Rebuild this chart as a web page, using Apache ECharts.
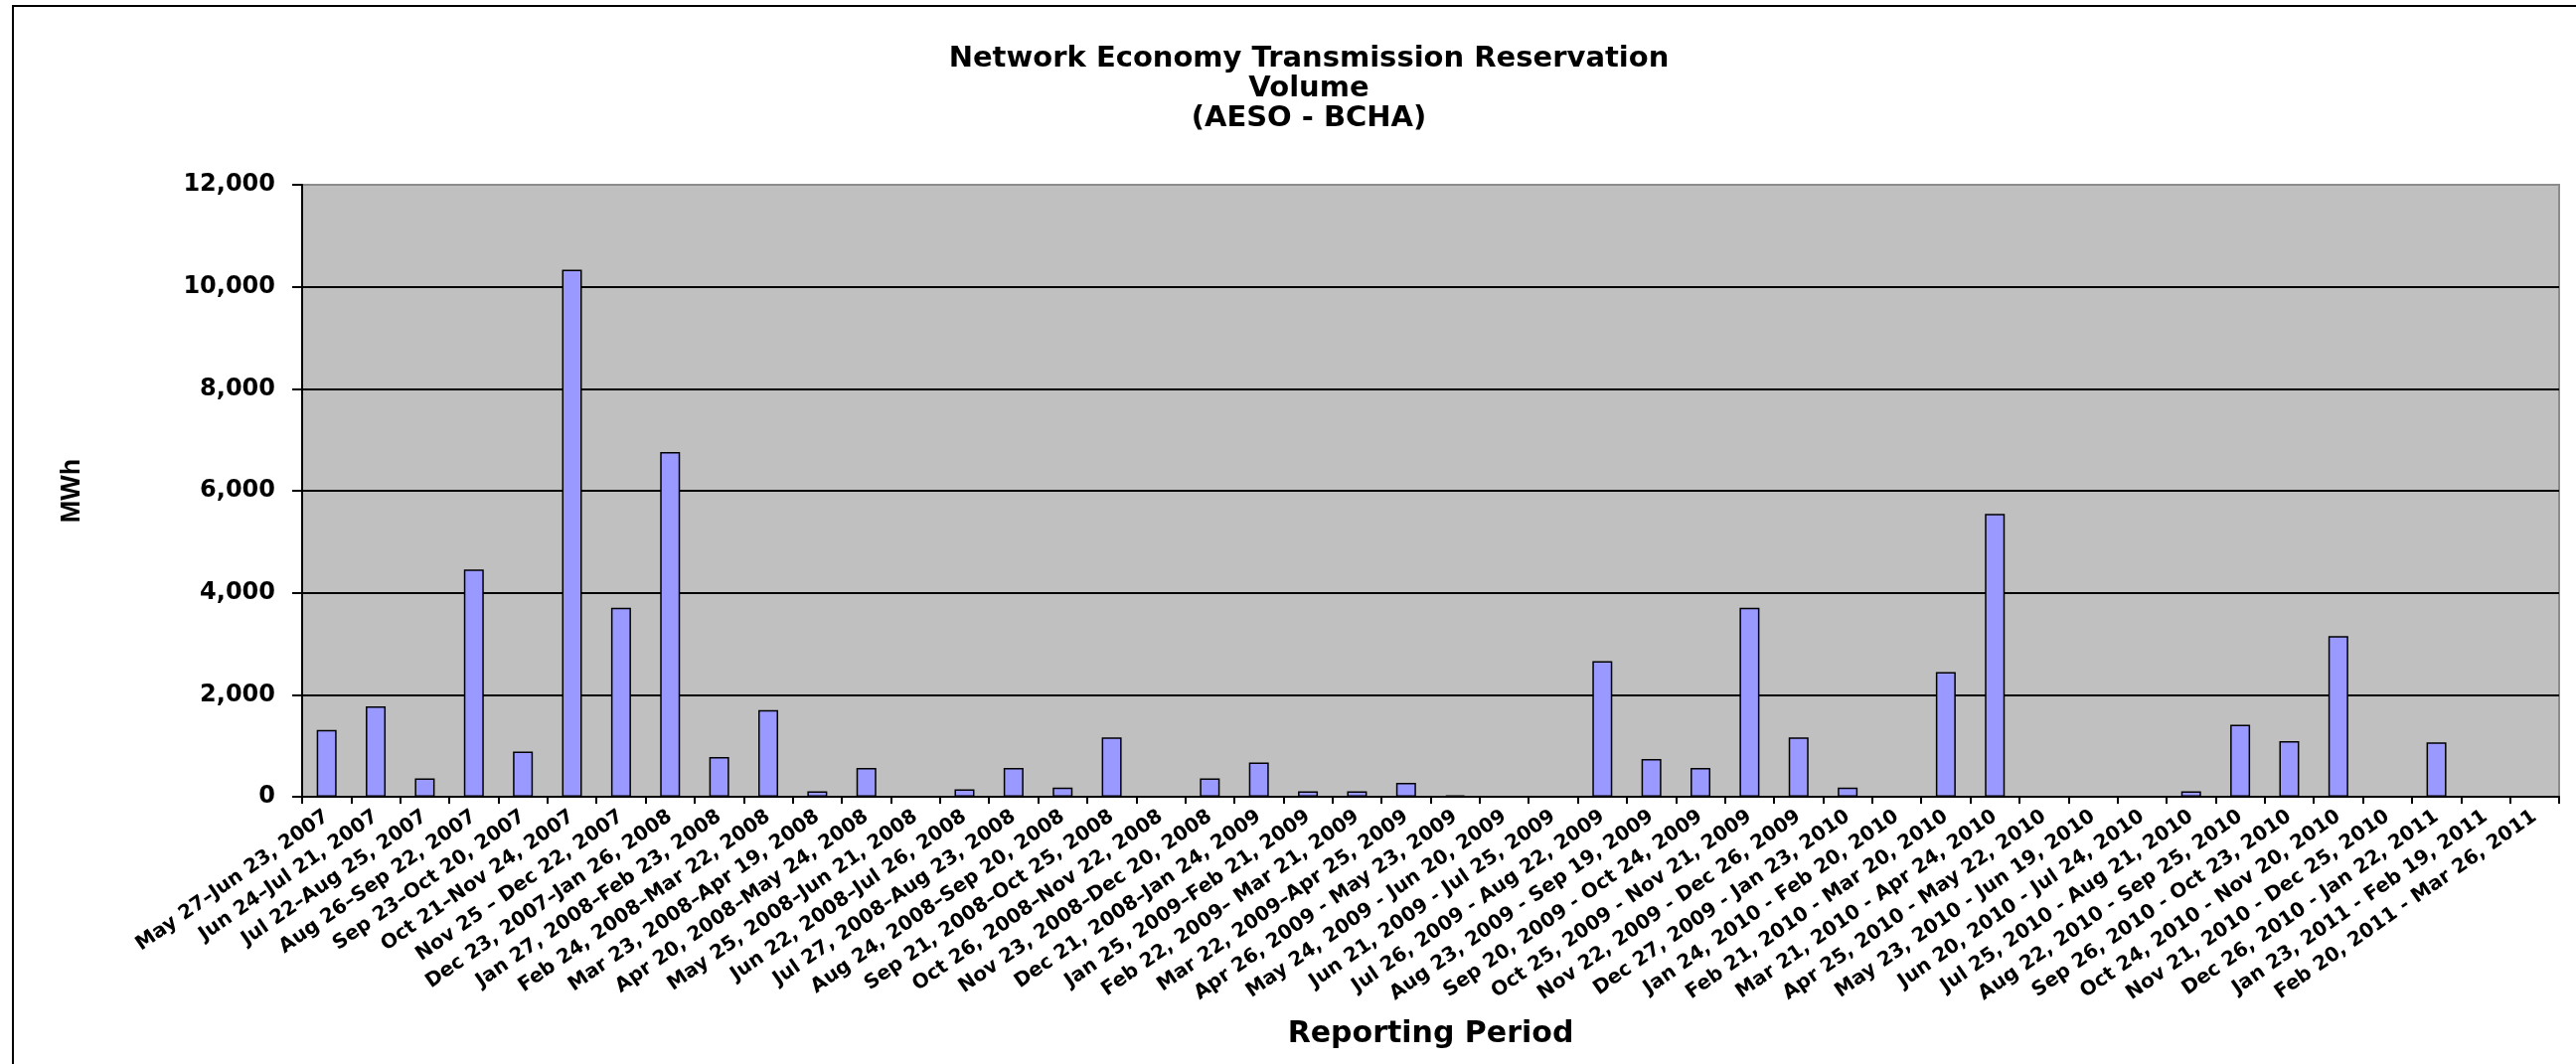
<!DOCTYPE html>
<html>
<head>
<meta charset="utf-8">
<style>
  html, body { margin: 0; padding: 0; background: #ffffff; }
  #chart { width: 2592px; height: 1071px; }
</style>
<script src="https://cdn.jsdelivr.net/npm/echarts@6/dist/echarts.min.js"></script>
</head>
<body>
<div id="chart"></div>
<script>
const titleLines = ['Network Economy Transmission Reservation', 'Volume', '(AESO - BCHA)'];
const xAxisTitle = 'Reporting Period';
const yAxisTitle = 'MWh';

const categories = [
  'May 27\u2013Jun 23, 2007',
  'Jun 24\u2013Jul 21, 2007',
  'Jul 22\u2013Aug 25, 2007',
  'Aug 26\u2013Sep 22, 2007',
  'Sep 23\u2013Oct 20, 2007',
  'Oct 21\u2013Nov 24, 2007',
  'Nov 25 \u2013 Dec 22, 2007',
  'Dec 23, 2007\u2013Jan 26, 2008',
  'Jan 27, 2008\u2013Feb 23, 2008',
  'Feb 24, 2008\u2013Mar 22, 2008',
  'Mar 23, 2008\u2013Apr 19, 2008',
  'Apr 20, 2008\u2013May 24, 2008',
  'May 25, 2008\u2013Jun 21, 2008',
  'Jun 22, 2008\u2013Jul 26, 2008',
  'Jul 27, 2008\u2013Aug 23, 2008',
  'Aug 24, 2008\u2013Sep 20, 2008',
  'Sep 21, 2008\u2013Oct 25, 2008',
  'Oct 26, 2008\u2013Nov 22, 2008',
  'Nov 23, 2008\u2013Dec 20, 2008',
  'Dec 21, 2008\u2013Jan 24, 2009',
  'Jan 25, 2009\u2013Feb 21, 2009',
  'Feb 22, 2009\u2013 Mar 21, 2009',
  'Mar 22, 2009\u2013Apr 25, 2009',
  'Apr 26, 2009 - May 23, 2009',
  'May 24, 2009 - Jun 20, 2009',
  'Jun 21, 2009 - Jul 25, 2009',
  'Jul 26, 2009 - Aug 22, 2009',
  'Aug 23, 2009 - Sep 19, 2009',
  'Sep 20, 2009 - Oct 24, 2009',
  'Oct 25, 2009 - Nov 21, 2009',
  'Nov 22, 2009 - Dec 26, 2009',
  'Dec 27, 2009 - Jan 23, 2010',
  'Jan 24, 2010 - Feb 20, 2010',
  'Feb 21, 2010 - Mar 20, 2010',
  'Mar 21, 2010 - Apr 24, 2010',
  'Apr 25, 2010 - May 22, 2010',
  'May 23, 2010 - Jun 19, 2010',
  'Jun 20, 2010 - Jul 24, 2010',
  'Jul 25, 2010 - Aug 21, 2010',
  'Aug 22, 2010 - Sep 25, 2010',
  'Sep 26, 2010 - Oct 23, 2010',
  'Oct 24, 2010 - Nov 20, 2010',
  'Nov 21, 2010 - Dec 25, 2010',
  'Dec 26, 2010 - Jan 22, 2011',
  'Jan 23, 2011 - Feb 19, 2011',
  'Feb 20, 2011 - Mar 26, 2011'
];

const volumes = [
  1312, 1772, 361, 4454, 886, 10336, 3708, 6759, 779, 1698,
  107, 566, 0, 148, 566, 180, 1165, 0, 361, 673,
  107, 107, 271, 25, 0, 0, 2658, 738, 566, 3708,
  1165, 180, 0, 2445, 5546, 0, 0, 0, 107, 1411,
  1091, 3150, 0, 1066, 0, 0
];

const yMin = 0;
const yMax = 12000;
const yStep = 2000;

const chart = echarts.init(document.getElementById('chart'), null, { renderer: 'canvas' });

const option = {
  backgroundColor: '#ffffff',
  animation: false,
  title: {
    text: titleLines.join('\n'),
    left: 1312,
    textAlign: 'center',
    top: 39,
    textStyle: {
      fontFamily: 'DejaVu Sans',
      fontWeight: 'bold',
      fontSize: 29,
      lineHeight: 30,
      color: '#000000'
    }
  },
  graphic: [
    {
      type: 'polyline',
      shape: { points: [[13, 1071], [13, 6], [2592, 6]] },
      style: { stroke: '#000000', lineWidth: 2, fill: null },
      silent: true
    }
  ],
  grid: {
    left: 304,
    right: 17,
    top: 186,
    bottom: 269,
    show: true,
    backgroundColor: '#c0c0c0',
    borderColor: '#8c8c8c',
    borderWidth: 2
  },
  xAxis: {
    type: 'category',
    data: categories,
    name: xAxisTitle,
    nameLocation: 'middle',
    nameGap: 224,
    nameTextStyle: {
      fontFamily: 'DejaVu Sans',
      fontWeight: 'bold',
      fontSize: 30,
      color: '#000000'
    },
    axisLine: { show: true, lineStyle: { color: '#000000', width: 2 } },
    axisTick: { show: true, length: 7, lineStyle: { color: '#000000', width: 2 } },
    axisLabel: {
      interval: 0,
      rotate: 35,
      margin: 18,
      fontFamily: 'DejaVu Sans',
      fontWeight: 'bold',
      fontSize: 20,
      color: '#000000'
    },
    splitLine: { show: false }
  },
  yAxis: {
    type: 'value',
    min: yMin,
    max: yMax,
    interval: yStep,
    name: yAxisTitle,
    nameLocation: 'middle',
    nameRotate: 90,
    nameGap: 218,
    nameTextStyle: {
      fontFamily: 'Liberation Sans',
      fontWeight: 'bold',
      fontSize: 27,
      color: '#000000'
    },
    axisLine: { show: true, lineStyle: { color: '#000000', width: 2 } },
    axisTick: { show: true, length: 10, lineStyle: { color: '#000000', width: 2 } },
    axisLabel: {
      margin: 27,
      fontFamily: 'DejaVu Sans',
      fontWeight: 'bold',
      fontSize: 24,
      color: '#000000',
      formatter: function (v) { return v.toLocaleString('en-US'); }
    },
    splitLine: {
      show: true,
      lineStyle: {
        color: ['#000000', '#000000', '#000000', '#000000', '#000000', '#000000', '#8c8c8c'],
        width: 2
      }
    }
  },
  series: [
    {
      type: 'bar',
      name: 'Volume',
      data: volumes,
      barWidth: 20,
      itemStyle: {
        color: '#9999ff',
        borderColor: '#000000',
        borderWidth: 1.5
      }
    }
  ]
};

chart.setOption(option);
</script>
</body>
</html>
